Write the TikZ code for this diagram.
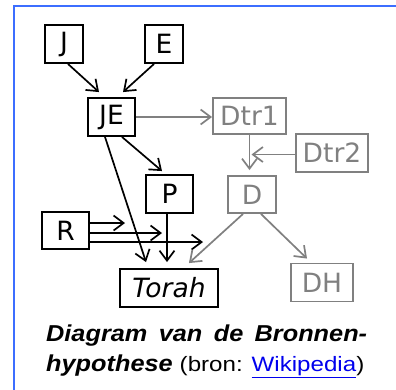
\documentclass[tikz,border=0pt]{standalone}
\usepackage{fontspec}
\setmainfont{Liberation Sans}
\newfontfamily\nodefont{DejaVu Sans}
\usetikzlibrary{arrows.meta,calc}
\definecolor{framblue}{RGB}{60,110,255}
\definecolor{gr}{RGB}{128,128,128}
\definecolor{linkblue}{RGB}{0,0,238}
\begin{document}
\begin{tikzpicture}[x=1bp,y=-1bp,
  box/.style={draw=black, line width=1.9bp, inner sep=0pt, font=\nodefont\fontsize{26.5bp}{26bp}\selectfont, text=black},
  gbox/.style={box, draw=gr, text=gr},
  arr/.style={line width=1.7bp, -{Straight Barb[length=10bp,width=15bp,line width=1.7bp]}},
  garr/.style={arr, draw=gr}]
\useasboundingbox (0,0) rectangle (396,390);
\fill[white] (0,0) rectangle (396,390);
\draw[framblue, line width=2bp] (14,390) -- (14,6) -- (396,6);
% nodes
\node[box, minimum width=38bp, minimum height=38bp] (J) at (64,44) {J};
\node[box, minimum width=38bp, minimum height=38bp] (E) at (164,44) {E};
\node[box, minimum width=47bp, minimum height=38bp] (JE) at (111.5,117) {JE};
\node[box, minimum width=47bp, minimum height=38bp] (P) at (169.5,194) {P};
\node[box, minimum width=47bp, minimum height=37bp] (R) at (65.5,230.5) {R};
\node[box, minimum width=98bp, minimum height=38bp] (Torah) at (169,288) {\itshape Torah};
\node[gbox, minimum width=73bp, minimum height=36bp] (Dtr1) at (249.5,116) {Dtr1};
\node[gbox, minimum width=72bp, minimum height=38bp] (Dtr2) at (332,153) {Dtr2};
\node[gbox, minimum width=48bp, minimum height=37bp] (D) at (252,194.5) {D};
\node[gbox, minimum width=62bp, minimum height=38bp] (DH) at (322,282.5) {DH};
\coordinate (r1) at (125,223);
\coordinate (r2) at (162,233);
\coordinate (r3) at (203,242);
% connectors
\draw[arr] ($(J.south)+(4,0)$) -- ($(JE.north)+(-12.5,-5)$);
\draw[arr] ($(E.south)+(-10,0)$) -- ($(JE.north)+(11.5,-5)$);
\draw[garr] (JE.east) -- (JE.east -| Dtr1.west);
\draw[arr] ($(JE.south)+(10.5,0)$) -- ($(P.north)+(-7.5,-3)$);
\draw[arr] ($(JE.south)+(-6.5,0)$) -- ($(Torah.north)+(-23,-6)$);
\draw[arr] ($(P.south)+(-2.5,0)$) -- ($(Torah.north)+(-2,-6)$);
\draw[arr] (R.east |- r1) -- (r1);
\draw[arr] (R.east |- r2) -- (r2);
\draw[arr] (R.east |- r3) -- (r3);
\draw[garr] (Dtr1.south) -- ($(Dtr1.south |- D.north)+(0,-5)$);
\draw[garr, shorten >=2bp] ($(Dtr2.west)+(0,1.5)$) -- ($(Dtr2.west -| Dtr1.south)+(0,1.5)$);
\draw[garr] ($(D.south)+(-9,0)$) -- ($(Torah.north east)+(-30,-5)$);
\draw[garr] ($(D.south)+(9,0)$) -- ($(DH.north)+(-15,-4)$);
% caption
\node[anchor=base west, inner sep=0pt] (cap1) at (46,341) {\fontsize{23bp}{24bp}\selectfont\bfseries\itshape\scalebox{1.1}[1]{\makebox[291.8bp][s]{Diagram van de Bronnen-}}};
\node[anchor=base west, inner sep=0pt] (cap2) at (46,371) {\scalebox{1.1}[1]{\fontsize{23bp}{24bp}\selectfont\bfseries\itshape hypothese}\hspace{7bp}\scalebox{1.16}[1]{\fontsize{20.8bp}{24bp}\selectfont(bron: \textcolor{linkblue}{\underline{Wikipedia}})}};
\end{tikzpicture}
\end{document}
